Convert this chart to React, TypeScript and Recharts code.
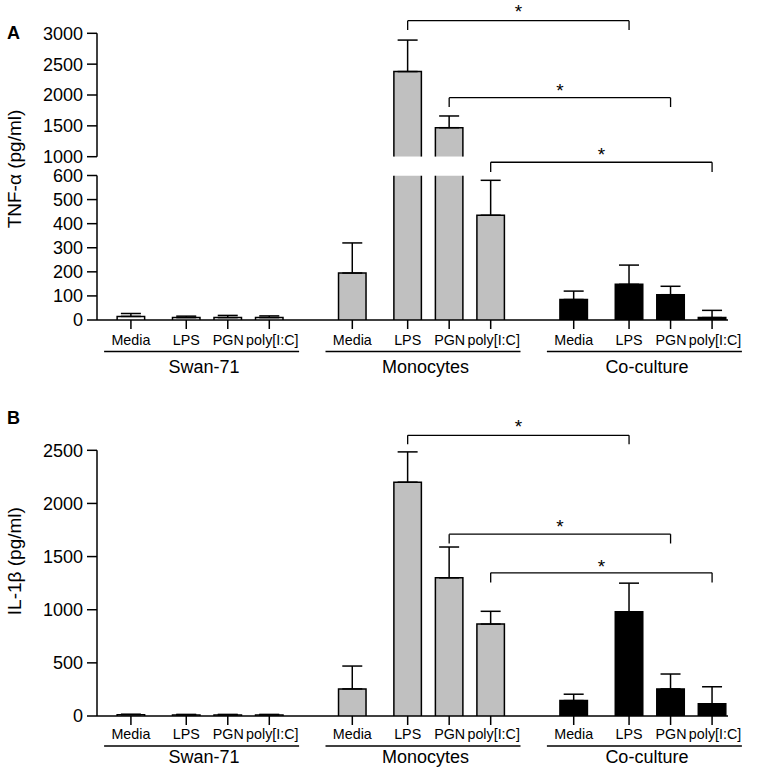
import React from "react";
import { BarChart, Bar, XAxis, YAxis, ErrorBar, ReferenceLine, ReferenceDot, Label } from "recharts";

// ---------- data ----------
const categories = ["Media", "LPS", "PGN", "poly[I:C]"];
const groups = ["Swan-71", "Monocytes", "Co-culture"];
const groupFills = ["#ffffff", "#c0c0c0", "#000000"];

const tnfSwan71 = [15, 10, 10, 10];
const tnfSwan71SD = [12, 6, 9, 7];
const tnfMonocytes = [195, 2380, 1470, 435];
const tnfMonocytesSD = [125, 510, 190, 145];
const tnfCoCulture = [85, 148, 105, 10];
const tnfCoCultureSD = [35, 80, 35, 30];

const il1Swan71 = [12, 10, 10, 10];
const il1Swan71SD = [5, 5, 5, 5];
const il1Monocytes = [255, 2200, 1300, 865];
const il1MonocytesSD = [215, 285, 290, 120];
const il1CoCulture = [145, 980, 255, 115];
const il1CoCultureSD = [60, 270, 140, 160];

const tnfUpperTicks = [1000, 1500, 2000, 2500, 3000];
const tnfLowerTicks = [0, 100, 200, 300, 400, 500, 600];
const il1Ticks = [0, 500, 1000, 1500, 2000, 2500];

// significance brackets (Monocytes vs Co-culture, same stimulus): bracket level, drop end, star level
const tnfBrackets = [
  { cat: 1, level: 3204, drop: 3053, star: 3402, part: "upper" },
  { cat: 2, level: 1956, drop: 1805, star: 2134, part: "upper" },
  { cat: 3, level: 655, drop: 615, star: 701, part: "lower" },
];
const il1Brackets = [
  { cat: 1, level: 2641, drop: 2556, star: 2757 },
  { cat: 2, level: 1711, drop: 1623, star: 1817 },
  { cat: 3, level: 1347, drop: 1257, star: 1435 },
];

// ---------- layout of category slots ----------
const SLOT_OFFSETS = [0, 4, 7, 10];
const LABEL_DX = [0, 0, 0.5, 3];
const GROUP_STRIDE = 16;
const SLOT_COUNT = 43;
const GROUP_CENTER = 5;
const slotIndex = (g: number, c: number) => g * GROUP_STRIDE + SLOT_OFFSETS[c];
const slotId = (i: number) => `s${i}`;

const FONT = "'Liberation Sans', Arial, Helvetica, sans-serif";

type Mode = { min?: number; max?: number };

const buildRows = (means: number[][], sds: number[][], mode: Mode) => {
  const rows: any[] = Array.from({ length: SLOT_COUNT }, (_, i) => ({
    id: slotId(i),
    label: null,
    cat: -1,
    group: -1,
    fill: null,
    value: null,
    err: null,
    broken: false,
  }));
  means.forEach((arr, g) =>
    arr.forEach((v, c) => {
      const r = rows[slotIndex(g, c)];
      r.label = categories[c];
      r.cat = c;
      r.group = g;
      r.fill = groupFills[g];
      if (mode.min != null && v <= mode.min) return;
      const broken = mode.max != null && v > mode.max;
      r.value = broken ? mode.max : v;
      r.broken = broken;
      r.err = broken ? null : [0, sds[g][c]];
    })
  );
  return rows;
};

const tnfMeans = [tnfSwan71, tnfMonocytes, tnfCoCulture];
const tnfSDs = [tnfSwan71SD, tnfMonocytesSD, tnfCoCultureSD];
const il1Means = [il1Swan71, il1Monocytes, il1CoCulture];
const il1SDs = [il1Swan71SD, il1MonocytesSD, il1CoCultureSD];

const tnfUpperRows = buildRows(tnfMeans, tnfSDs, { min: 1000 });
const tnfLowerRows = buildRows(tnfMeans, tnfSDs, { max: 600 });
const il1Rows = buildRows(il1Means, il1SDs, {});

const barTickIds: string[] = [];
groups.forEach((_, g) => categories.forEach((__, c) => barTickIds.push(slotId(slotIndex(g, c)))));
const groupCenterIds = groups.map((_, g) => slotId(g * GROUP_STRIDE + GROUP_CENTER));
const xTickIds = [...barTickIds, ...groupCenterIds];

// ---------- renderers ----------
const BarShape = (props: any) => {
  const { x, y, width, height, payload } = props;
  if (!payload || payload.value == null || y == null || isNaN(y)) return null;
  const cx = x + width / 2;
  const hw = 13.75;
  const top = Math.min(y, y + height);
  const bottom = Math.max(y, y + height);
  const d = payload.broken
    ? `M${cx - hw},${bottom}V${top}M${cx + hw},${top}V${bottom}`
    : `M${cx - hw},${bottom}V${top}H${cx + hw}V${bottom}`;
  return (
    <g>
      <rect x={cx - hw} y={top} width={hw * 2} height={bottom - top} fill={payload.fill} />
      <path d={d} fill="none" stroke="#000" strokeWidth={1.5} />
    </g>
  );
};

const makeXTick = (rows: any[], labelDy: number, lineDy: number, groupDy: number) => (props: any) => {
  const { x, y, payload } = props;
  const id = payload && payload.value;
  const gi = groupCenterIds.indexOf(id);
  if (gi >= 0) {
    return (
      <g>
        <line x1={x - 96} x2={x + 99} y1={y + lineDy} y2={y + lineDy} stroke="#000" strokeWidth={1.4} />
        <text x={x + 4} y={y + groupDy} textAnchor="middle" fontSize={18} fill="#000" fontFamily={FONT}>
          {groups[gi]}
        </text>
      </g>
    );
  }
  const row = rows.find((r) => r.id === id);
  if (!row || !row.label) return null;
  return (
    <g>
      <line x1={x} x2={x} y1={y} y2={y + 9} stroke="#000" strokeWidth={1.5} />
      <text x={x + LABEL_DX[row.cat]} y={y + labelDy} textAnchor="middle" fontSize={14.3} fill="#000" fontFamily={FONT}>
        {row.label}
      </text>
    </g>
  );
};

const Star = (props: any) => (
  <text x={props.cx} y={props.cy + 10} textAnchor="middle" fontSize={19} fill="#000" fontFamily={FONT}>
    *
  </text>
);

const bracketElements = (list: any[], prefix: string) =>
  list.flatMap((b, i) => {
    const from = slotIndex(1, b.cat);
    const to = slotIndex(2, b.cat);
    const mid = (from + to) / 2;
    const common = { stroke: "#000", strokeWidth: 1.3, ifOverflow: "visible" as const };
    return [
      <ReferenceLine key={`${prefix}l${i}`} segment={[{ x: slotId(from), y: b.drop }, { x: slotId(from), y: b.level }]} {...common} />,
      <ReferenceLine key={`${prefix}h${i}`} segment={[{ x: slotId(from), y: b.level }, { x: slotId(to), y: b.level }]} {...common} />,
      <ReferenceLine key={`${prefix}r${i}`} segment={[{ x: slotId(to), y: b.level }, { x: slotId(to), y: b.drop }]} {...common} />,
      <ReferenceDot key={`${prefix}s${i}`} x={slotId(mid)} y={b.star} r={0} ifOverflow="visible" shape={Star} />,
    ];
  });

const makeTitle = (opts: { title?: string; titleDy?: number; letter?: string; letterDy?: number }) => (props: any) => {
  const vb = props.viewBox || { x: 0, y: 0, width: 0, height: 0 };
  const cx = vb.x + 21;
  const cy = vb.y + vb.height / 2 + (opts.titleDy || 0);
  return (
    <g>
      {opts.letter ? (
        <text x={vb.x + 7} y={vb.y + (opts.letterDy || 0)} fontSize={18} fontWeight="bold" fill="#000" fontFamily={FONT}>
          {opts.letter}
        </text>
      ) : null}
      {opts.title ? (
        <text x={cx} y={cy} transform={`rotate(-90, ${cx}, ${cy})`} textAnchor="middle" fontSize={19} fill="#000" fontFamily={FONT}>
          {opts.title}
        </text>
      ) : null}
    </g>
  );
};

const axisLine = { stroke: "#000", strokeWidth: 1.5 };
const yTick = { fill: "#000", fontSize: 18, fontFamily: FONT };
const X_PADDING = { left: 27, right: 9 };

export default function App() {
  return (
    <div style={{ position: "absolute", left: 0, top: 0, width: 764, height: 774, background: "#fff", fontFamily: FONT }}>
      {/* Panel A - upper (broken axis part) */}
      <div style={{ position: "absolute", left: 0, top: 0 }}>
        <BarChart width={764} height={172} data={tnfUpperRows} margin={{ top: 33.3, right: 36, bottom: 15.3, left: 0 }}>
          <XAxis dataKey="id" type="category" hide padding={X_PADDING} />
          <YAxis
            type="number"
            domain={[1000, 3000]}
            ticks={tnfUpperTicks}
            interval={0}
            allowDataOverflow
            width={97}
            tickSize={10}
            tickMargin={4}
            tick={yTick}
            axisLine={axisLine}
            tickLine={axisLine}
          >
            <Label content={makeTitle({ letter: "A", letterDy: 5.7 })} />
          </YAxis>
          <Bar dataKey="value" shape={BarShape} isAnimationActive={false}>
            <ErrorBar dataKey="err" direction="y" width={10} stroke="#000" strokeWidth={1.5} />
          </Bar>
          {bracketElements(tnfBrackets.filter((b) => b.part === "upper"), "au")}
        </BarChart>
      </div>

      {/* Panel A - lower */}
      <div style={{ position: "absolute", left: 0, top: 100 }}>
        <BarChart width={764} height={280} data={tnfLowerRows} margin={{ top: 75.5, right: 36, bottom: 0, left: 0 }}>
          <XAxis
            dataKey="id"
            type="category"
            padding={X_PADDING}
            ticks={xTickIds}
            interval={0}
            tickLine={false}
            tickSize={0}
            tickMargin={0}
            height={60}
            axisLine={axisLine}
            tick={makeXTick(tnfLowerRows, 25, 31.5, 53)}
          />
          <YAxis
            type="number"
            domain={[0, 600]}
            ticks={tnfLowerTicks}
            interval={0}
            allowDataOverflow
            width={97}
            tickSize={10}
            tickMargin={4}
            tick={yTick}
            axisLine={axisLine}
            tickLine={axisLine}
          >
            <Label content={makeTitle({ title: "TNF-α (pg/ml)", titleDy: -78.75 })} />
          </YAxis>
          <Bar dataKey="value" shape={BarShape} isAnimationActive={false}>
            <ErrorBar dataKey="err" direction="y" width={10} stroke="#000" strokeWidth={1.5} />
          </Bar>
          {bracketElements(tnfBrackets.filter((b) => b.part === "lower"), "al")}
        </BarChart>
      </div>

      {/* Panel B */}
      <div style={{ position: "absolute", left: 0, top: 395 }}>
        <BarChart width={764} height={377} data={il1Rows} margin={{ top: 55.3, right: 36, bottom: 0, left: 0 }}>
          <XAxis
            dataKey="id"
            type="category"
            padding={X_PADDING}
            ticks={xTickIds}
            interval={0}
            tickLine={false}
            tickSize={0}
            tickMargin={0}
            height={56}
            axisLine={axisLine}
            tick={makeXTick(il1Rows, 22.5, 30, 47)}
          />
          <YAxis
            type="number"
            domain={[0, 2500]}
            ticks={il1Ticks}
            interval={0}
            allowDataOverflow
            width={97}
            tickSize={10}
            tickMargin={4}
            tick={yTick}
            axisLine={axisLine}
            tickLine={axisLine}
          >
            <Label content={makeTitle({ title: "IL-1β (pg/ml)", titleDy: -22, letter: "B", letterDy: -26.3 })} />
          </YAxis>
          <Bar dataKey="value" shape={BarShape} isAnimationActive={false}>
            <ErrorBar dataKey="err" direction="y" width={10} stroke="#000" strokeWidth={1.5} />
          </Bar>
          {bracketElements(il1Brackets, "b")}
        </BarChart>
      </div>
    </div>
  );
}
